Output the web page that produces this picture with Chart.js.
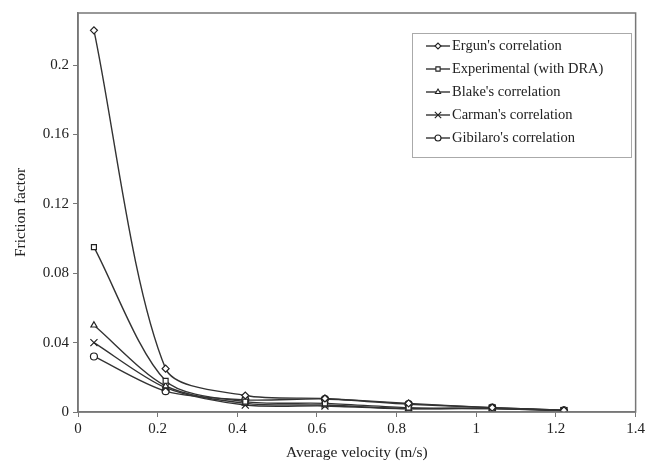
<!DOCTYPE html>
<html>
<head>
<meta charset="utf-8">
<script src="https://cdn.jsdelivr.net/npm/chart.js@4.4.1/dist/chart.umd.min.js"></script>
<style>
  html, body { margin: 0; padding: 0; background: #fff; }
  #wrap { width: 648px; height: 467px; }
</style>
</head>
<body>
<div id="wrap"><canvas id="myChart" width="648" height="467"></canvas></div>
<script>
// average velocity (m/s)
const velocity = [0.04, 0.22, 0.42, 0.62, 0.83, 1.04, 1.22];

const ergun = [0.22, 0.025, 0.0095, 0.0078, 0.005, 0.0025, 0.001];
const experimental = [0.095, 0.018, 0.006, 0.005, 0.0025, 0.002, 0.0008];
const blake = [0.05, 0.015, 0.005, 0.004, 0.002, 0.002, 0.0008];
const carman = [0.04, 0.014, 0.004, 0.0035, 0.0018, 0.0022, 0.0008];
const gibilaro = [0.032, 0.012, 0.007, 0.0075, 0.0045, 0.0025, 0.001];

const seriesNames = [
  "Ergun's correlation",
  "Experimental (with DRA)",
  "Blake's correlation",
  "Carman's correlation",
  "Gibilaro's correlation",
];
const seriesMarkers = ["rectRot", "rect", "triangle", "crossRot", "circle"];
const seriesValues = [ergun, experimental, blake, carman, gibilaro];

const xTicks = [0, 0.2, 0.4, 0.6, 0.8, 1, 1.2, 1.4];
const yTicks = [0, 0.04, 0.08, 0.12, 0.16, 0.2];

const serif = "'Liberation Serif', 'Times New Roman', serif";
const lineColor = "#333";

const datasets = seriesNames.map((name, i) => ({
  label: name,
  data: velocity.map((v, j) => ({ x: v, y: seriesValues[i][j] })),
  borderColor: lineColor,
  borderWidth: 1.4,
  backgroundColor: "#fff",
  pointStyle: seriesMarkers[i],
  pointRadius: seriesMarkers[i] === "crossRot" ? 5 : 3.5,
  pointBorderColor: "#222",
  pointBorderWidth: 1.2,
  pointBackgroundColor: "#fff",
  tension: 0.28,
}));

// plot frame (top/right) and the boxed legend inside the plot
const frameAndLegend = {
  id: "frameAndLegend",
  afterDraw(chart) {
    const ctx = chart.ctx;
    const a = chart.chartArea;
    ctx.save();
    ctx.strokeStyle = "#777";
    ctx.lineWidth = 1.5;
    ctx.strokeRect(a.left, a.top, a.right - a.left, a.bottom - a.top);

    const bx = 412, by = 33, bw = 219, bh = 124;
    ctx.fillStyle = "#fff";
    ctx.fillRect(bx, by, bw, bh);
    ctx.strokeStyle = "#aaa";
    ctx.lineWidth = 1;
    ctx.strokeRect(bx + 0.5, by + 0.5, bw, bh);

    ctx.font = "14.5px " + serif;
    ctx.textBaseline = "middle";
    seriesNames.forEach((name, i) => {
      const y = 46 + i * 23;
      ctx.strokeStyle = lineColor;
      ctx.lineWidth = 1.4;
      ctx.beginPath();
      ctx.moveTo(426, y);
      ctx.lineTo(450, y);
      ctx.stroke();
      ctx.strokeStyle = "#222";
      ctx.fillStyle = "#fff";
      ctx.lineWidth = 1.1;
      Chart.helpers.drawPoint(ctx, {
        pointStyle: seriesMarkers[i],
        radius: seriesMarkers[i] === "crossRot" ? 4.5 : 3,
        rotation: 0,
        borderWidth: 1.1,
      }, 438, y);
      ctx.fillStyle = "#222";
      ctx.fillText(name, 452, y);
    });
    ctx.restore();
  },
};

const ctx = document.getElementById("myChart").getContext("2d");
const myChart = new Chart(ctx, {
  type: "line",
  data: { datasets },
  plugins: [frameAndLegend],
  options: {
    responsive: false,
    animation: false,
    layout: { padding: { top: 13, right: 11, left: 0, bottom: 0 } },
    plugins: {
      legend: { display: false },
      tooltip: { enabled: false },
    },
    scales: {
      x: {
        type: "linear",
        min: 0,
        max: 1.4,
        afterBuildTicks: (s) => { s.ticks = xTicks.map((v) => ({ value: v })); },
        afterFit: (s) => { s.height = 55; },
        grid: { display: true, drawOnChartArea: false, drawTicks: true, tickLength: 5, color: "#777" },
        border: { display: true, color: "#777", width: 1.5 },
        ticks: {
          color: "#222",
          font: { family: serif, size: 15 },
          padding: 3,
          maxRotation: 0,
          callback: (v) => String(Math.round(v * 10) / 10),
        },
        title: {
          display: true,
          text: "Average velocity (m/s)",
          color: "#222",
          font: { family: serif, size: 15.5 },
          padding: { top: 0, bottom: 5 },
        },
      },
      y: {
        type: "linear",
        min: 0,
        max: 0.23,
        afterBuildTicks: (s) => { s.ticks = yTicks.map((v) => ({ value: v })); },
        afterFit: (s) => { s.width = 78; },
        grid: { display: true, drawOnChartArea: false, drawTicks: true, tickLength: 5, color: "#777" },
        border: { display: true, color: "#777", width: 1.5 },
        ticks: {
          color: "#222",
          font: { family: serif, size: 15 },
          padding: 4,
          callback: (v) => String(Math.round(v * 100) / 100),
        },
        title: {
          display: true,
          text: "Friction factor",
          color: "#222",
          font: { family: serif, size: 15.5 },
          padding: { top: 12, bottom: 0 },
        },
      },
    },
  },
});
</script>
</body>
</html>
